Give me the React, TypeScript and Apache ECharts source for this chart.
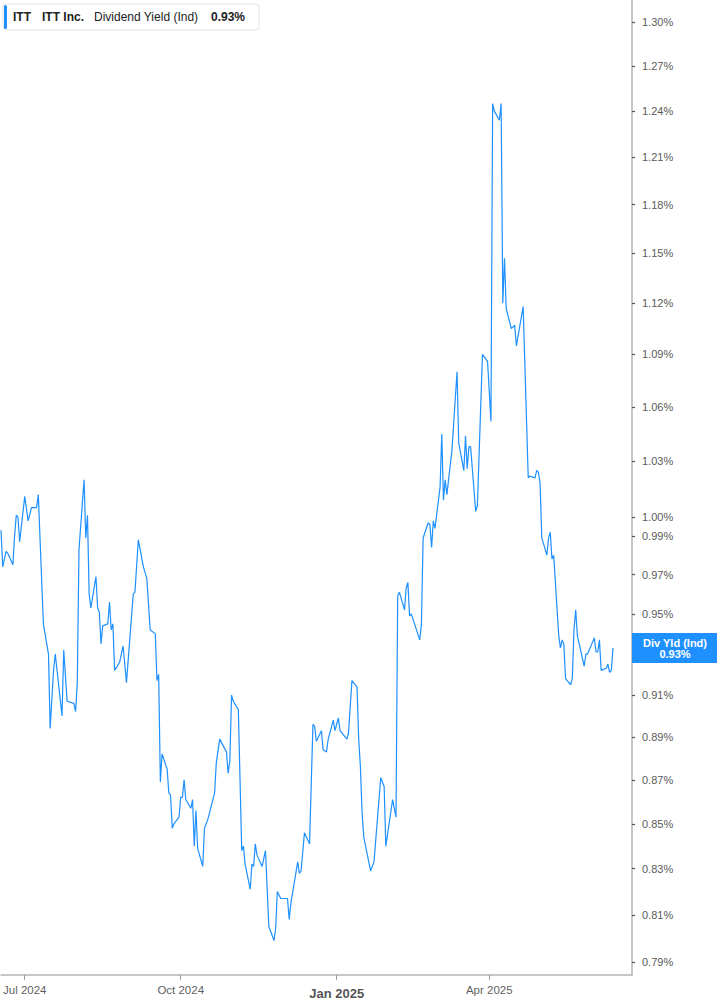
import React, { useEffect, useRef } from "react";
import * as echarts from "echarts";

const TICKER = "ITT";
const COMPANY = "ITT Inc.";
const METRIC = "Dividend Yield (Ind)";
const BADGE_TITLE = "Div Yld (Ind)";

const dates: string[] = [
  "2024-06-17","2024-06-18","2024-06-20","2024-06-21","2024-06-24","2024-06-25","2024-06-26","2024-06-27","2024-06-28","2024-07-01",
  "2024-07-03","2024-07-05","2024-07-08","2024-07-09","2024-07-12","2024-07-15","2024-07-16","2024-07-18","2024-07-19","2024-07-23",
  "2024-07-24","2024-07-26","2024-07-30","2024-07-31","2024-08-01","2024-08-02","2024-08-05","2024-08-06","2024-08-07","2024-08-08",
  "2024-08-09","2024-08-12","2024-08-13","2024-08-14","2024-08-15","2024-08-16","2024-08-19","2024-08-20","2024-08-21","2024-08-22",
  "2024-08-23","2024-08-26","2024-08-28","2024-08-30","2024-09-03","2024-09-04","2024-09-06","2024-09-09","2024-09-11","2024-09-13",
  "2024-09-16","2024-09-17","2024-09-18","2024-09-19","2024-09-20","2024-09-23","2024-09-24","2024-09-25","2024-09-26","2024-09-27",
  "2024-09-30","2024-10-01","2024-10-02","2024-10-03","2024-10-04","2024-10-07","2024-10-08","2024-10-09","2024-10-10","2024-10-11",
  "2024-10-14","2024-10-15","2024-10-17","2024-10-21","2024-10-22","2024-10-24","2024-10-28","2024-10-29","2024-10-30","2024-10-31",
  "2024-11-01","2024-11-04","2024-11-06","2024-11-07","2024-11-08","2024-11-11","2024-11-12","2024-11-13","2024-11-14","2024-11-15",
  "2024-11-18","2024-11-20","2024-11-22","2024-11-25","2024-11-26","2024-11-27","2024-11-29","2024-12-03","2024-12-04","2024-12-05",
  "2024-12-09","2024-12-10","2024-12-11","2024-12-13","2024-12-16","2024-12-18","2024-12-19","2024-12-20","2024-12-23","2024-12-24",
  "2024-12-26","2024-12-27","2024-12-30","2024-12-31","2025-01-02","2025-01-03","2025-01-07","2025-01-08","2025-01-10","2025-01-13",
  "2025-01-14","2025-01-15","2025-01-16","2025-01-17","2025-01-21","2025-01-23","2025-01-27","2025-01-29","2025-01-30","2025-02-03",
  "2025-02-05","2025-02-06","2025-02-07","2025-02-10","2025-02-11","2025-02-12","2025-02-13","2025-02-14","2025-02-19","2025-02-20",
  "2025-02-21","2025-02-24","2025-02-25","2025-02-26","2025-02-27","2025-02-28","2025-03-03","2025-03-04","2025-03-05","2025-03-06",
  "2025-03-07","2025-03-10","2025-03-13","2025-03-14","2025-03-17","2025-03-18","2025-03-19","2025-03-20","2025-03-21","2025-03-24",
  "2025-03-25","2025-03-28","2025-03-31","2025-04-02","2025-04-03","2025-04-04","2025-04-07","2025-04-08","2025-04-09","2025-04-10",
  "2025-04-11","2025-04-14","2025-04-16","2025-04-17","2025-04-21","2025-04-24","2025-04-25","2025-04-28","2025-04-29","2025-04-30",
  "2025-05-01","2025-05-02","2025-05-05","2025-05-06","2025-05-07","2025-05-08","2025-05-09","2025-05-12","2025-05-13","2025-05-14",
  "2025-05-15","2025-05-16","2025-05-19","2025-05-20","2025-05-21","2025-05-22","2025-05-23","2025-05-27","2025-05-28","2025-05-29",
  "2025-05-30","2025-06-02","2025-06-03","2025-06-04","2025-06-05","2025-06-06","2025-06-09","2025-06-10","2025-06-11","2025-06-12",
  "2025-06-13"
];

const yields: number[] = [
  0.993,0.974,0.982,0.981,0.975,0.990,1.001,1.000,0.987,1.011,
  0.998,1.005,1.005,1.012,0.945,0.930,0.894,0.922,0.930,0.900,
  0.932,0.907,0.906,0.902,0.916,0.983,1.020,0.989,1.001,0.960,
  0.953,0.969,0.953,0.951,0.935,0.944,0.945,0.956,0.942,0.945,
  0.922,0.926,0.934,0.916,0.960,0.961,0.988,0.974,0.968,0.942,
  0.940,0.917,0.920,0.869,0.882,0.875,0.864,0.863,0.848,0.850,
  0.853,0.862,0.862,0.870,0.861,0.857,0.861,0.840,0.856,0.839,
  0.831,0.848,0.852,0.864,0.878,0.889,0.883,0.873,0.879,0.910,
  0.907,0.903,0.838,0.840,0.832,0.821,0.832,0.831,0.841,0.836,
  0.831,0.838,0.805,0.799,0.804,0.820,0.817,0.817,0.808,0.815,
  0.833,0.828,0.829,0.846,0.841,0.896,0.895,0.888,0.893,0.884,
  0.883,0.889,0.898,0.893,0.899,0.893,0.889,0.892,0.917,0.914,
  0.889,0.876,0.855,0.844,0.829,0.833,0.871,0.867,0.840,0.861,
  0.853,0.959,0.961,0.952,0.963,0.966,0.949,0.950,0.937,0.945,
  0.989,0.997,0.996,0.984,0.998,0.994,1.016,1.045,1.009,1.020,
  1.012,1.036,1.080,1.040,1.025,1.044,1.026,1.038,1.038,1.003,
  1.006,1.090,1.086,1.052,1.245,1.240,1.234,1.245,1.120,1.147,
  1.117,1.105,1.107,1.095,1.118,1.021,1.022,1.021,1.025,1.024,
  1.018,0.989,0.980,0.989,0.992,0.978,0.980,0.939,0.933,0.937,
  0.935,0.918,0.915,0.918,0.942,0.952,0.939,0.924,0.930,0.930,
  0.932,0.938,0.931,0.931,0.937,0.922,0.923,0.925,0.921,0.922,
  0.933
];

// tick marks on the value axis; the 0.93% label sits under the last-value badge
const yTickValues: number[] = [
  0.79, 0.81, 0.83, 0.85, 0.87, 0.89, 0.91, 0.93, 0.95, 0.97, 0.99,
  1.0, 1.03, 1.06, 1.09, 1.12, 1.15, 1.18, 1.21, 1.24, 1.27, 1.3
];
const yLabelValues: number[] = [
  0.79, 0.81, 0.83, 0.85, 0.87, 0.89, 0.91, 0.95, 0.97, 0.99,
  1.0, 1.03, 1.06, 1.09, 1.12, 1.15, 1.18, 1.21, 1.24, 1.27, 1.3
];
const xTickDates: string[] = ["2024-07-01", "2024-10-01", "2025-01-01", "2025-04-01"];
const MONTHS = ["Jan","Feb","Mar","Apr","May","Jun","Jul","Aug","Sep","Oct","Nov","Dec"];

const X_MIN = "2024-06-17";
const X_MAX = "2025-06-24T05:00:00";
const Y_MIN = 0.78455;
const Y_MAX = 1.3152;

const BLUE = "#1e90ff";
const FONT = "'Liberation Sans', Arial, sans-serif";

function toTs(s: string): number {
  const [d, t] = s.split("T");
  const [y, m, dd] = d.split("-").map(Number);
  let h = 0;
  if (t) h = Number(t.split(":")[0]);
  return Date.UTC(y, m - 1, dd, h);
}

export default function App() {
  const ref = useRef<HTMLDivElement>(null);
  useEffect(() => {
    if (!ref.current) return;
    const chart = echarts.init(ref.current, null, { renderer: "svg" });
    const seriesData = dates.map((d, i) => [toTs(d), yields[i]]);
    const lastVal = yields[yields.length - 1];
    const lastTs = toTs(dates[dates.length - 1]);
    const xTicks = xTickDates.map(toTs);

    const option: any = {
      animation: false,
      backgroundColor: "#ffffff",
      textStyle: { fontFamily: FONT },
      grid: { left: 0, right: 85, top: 0, bottom: 30, containLabel: false },
      xAxis: {
        type: "value",
        min: toTs(X_MIN),
        max: toTs(X_MAX),
        axisLine: { show: true, lineStyle: { color: "#b5b5b5", width: 1.5 } },
        axisTick: {
          show: true,
          length: 5,
          customValues: xTicks,
          lineStyle: { color: "#9a9a9a", width: 1 },
        },
        axisLabel: {
          show: true,
          customValues: xTicks,
          color: "#5f5f5f",
          fontSize: 11.5,
          fontFamily: FONT,
          margin: 9,
          hideOverlap: false,
          formatter: (v: number) => {
            const dt = new Date(v);
            const m = dt.getUTCMonth();
            const label = MONTHS[m] + " " + dt.getUTCFullYear();
            return m === 0 ? "{b|" + label + "}" : label;
          },
          rich: {
            b: { fontWeight: "bold", fontSize: 13, color: "#555555", fontFamily: FONT, padding: [3, 0, 0, 0] },
          },
        },
        splitLine: { show: false },
      },
      yAxis: {
        type: "log",
        logBase: 10,
        position: "right",
        min: Y_MIN,
        max: Y_MAX,
        axisLine: { show: true, lineStyle: { color: "#b5b5b5", width: 1.5 } },
        axisTick: {
          show: true,
          length: 3,
          customValues: yTickValues,
          lineStyle: { color: "#555555", width: 1.2 },
        },
        axisLabel: {
          show: true,
          customValues: yLabelValues,
          color: "#5a5a5a",
          fontSize: 11,
          fontFamily: FONT,
          margin: 10,
          formatter: (v: number) => Number(v).toFixed(2) + "%",
        },
        splitLine: { show: false },
      },
      series: [
        {
          type: "line",
          data: seriesData,
          showSymbol: false,
          symbol: "none",
          lineStyle: { color: BLUE, width: 1.2 },
          itemStyle: { color: BLUE },
          clip: true,
        },
      ],
    };
    chart.setOption(option);

    const pt = chart.convertToPixel({ gridIndex: 0 }, [lastTs, lastVal]) as number[];
    const py = pt && isFinite(pt[1]) ? pt[1] : 648;
    const axisX = 632;

    chart.setOption({
      graphic: [
        {
          type: "group",
          id: "legend",
          z: 100,
          children: [
            {
              type: "rect",
              z: 100,
              shape: { x: 3, y: 4, width: 256, height: 26, r: 3 },
              style: { fill: "#ffffff", stroke: "#e2e2e2", lineWidth: 1 },
            },
            {
              type: "rect",
              z: 101,
              shape: { x: 4, y: 5, width: 3, height: 24, r: 1.5 },
              style: { fill: BLUE },
            },
            {
              type: "text",
              z: 101,
              x: 13, y: 17,
              style: { text: TICKER, fill: "#222222", font: "bold 12px " + FONT, verticalAlign: "middle" },
            },
            {
              type: "text",
              z: 101,
              x: 42, y: 17,
              style: { text: COMPANY, fill: "#222222", font: "bold 12px " + FONT, verticalAlign: "middle" },
            },
            {
              type: "text",
              z: 101,
              x: 94, y: 17,
              style: { text: METRIC, fill: "#222222", font: "12px " + FONT, verticalAlign: "middle" },
            },
            {
              type: "text",
              z: 101,
              x: 211, y: 17,
              style: { text: lastVal.toFixed(2) + "%", fill: "#222222", font: "bold 12px " + FONT, verticalAlign: "middle" },
            },
          ],
        },
        {
          type: "group",
          id: "badge",
          z: 100,
          children: [
            {
              type: "rect",
              z: 100,
              shape: { x: axisX, y: py - 15, width: 717 - axisX, height: 30 },
              style: { fill: BLUE },
            },
            {
              type: "text",
              z: 101,
              x: axisX + 43, y: py - 5,
              style: { text: BADGE_TITLE, fill: "#ffffff", font: "bold 11px " + FONT, align: "center", verticalAlign: "middle" },
            },
            {
              type: "text",
              z: 101,
              x: axisX + 43, y: py + 6,
              style: { text: lastVal.toFixed(2) + "%", fill: "#ffffff", font: "bold 11px " + FONT, align: "center", verticalAlign: "middle" },
            },
          ],
        },
      ],
    });

    return () => chart.dispose();
  }, []);

  return (
    <div
      ref={ref}
      style={{ position: "absolute", left: 0, top: 0, width: 717, height: 1005, background: "#fff" }}
    />
  );
}
